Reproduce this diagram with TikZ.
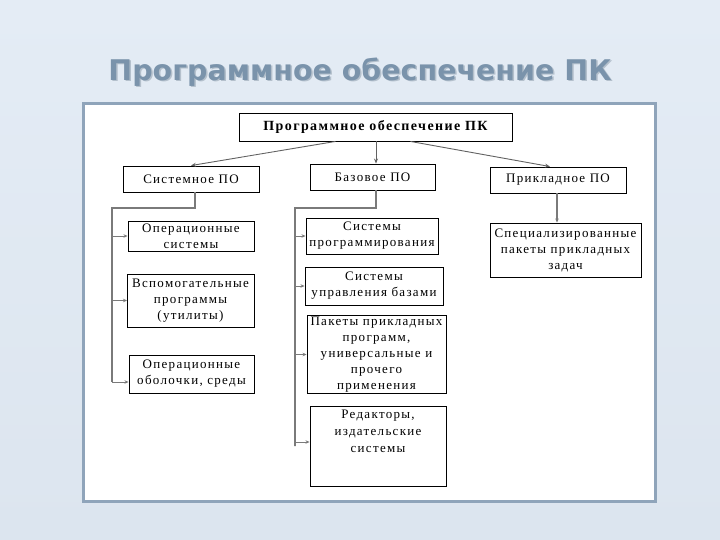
\documentclass[tikz,border=0pt]{standalone}
\usepackage{fontspec}
\setmainfont{Liberation Serif}[LetterSpace=10]
\newfontfamily\titlefont{DejaVu Sans}
\usetikzlibrary{arrows.meta,positioning}
\definecolor{slidebg}{HTML}{E4ECF5}
\definecolor{slidebgb}{HTML}{DCE5EF}
\definecolor{titlecol}{HTML}{7A93AB}
\definecolor{titleshade}{HTML}{B4C0CC}
\definecolor{framecol}{HTML}{8FA4BA}
\definecolor{linkcol}{HTML}{7A7A7A}
\tikzset{
  box/.style={draw=black, line width=0.9pt, fill=white, align=center,
    inner sep=1pt, font=\fontsize{13}{16}\selectfont},
  arr/.style={-{Stealth[length=5pt,width=4pt]}, draw=linkcol!80!black, line width=0.9pt},
  bus/.style={draw=linkcol, line width=2pt},
  tap/.style={-{Stealth[length=4pt,width=3.5pt]}, draw=linkcol, line width=1pt}
}
\begin{document}
\begin{tikzpicture}[x=1pt, y=-1pt]
  \useasboundingbox (0,0) rectangle (720,540);
  % slide background and frame
  \shade[top color=slidebg, bottom color=slidebgb] (0,0) rectangle (720,540);
  \draw[framecol, line width=3pt, fill=white] (83,104) rectangle (655,501);
  % title
  \node[text=titleshade, font=\titlefont\bfseries\fontsize{28.5}{32}\selectfont] at (361.5,73.5) {Программное обеспечение ПК};
  \node[text=titlecol, font=\titlefont\bfseries\fontsize{28.5}{32}\selectfont] (title) at (360,72) {Программное обеспечение ПК};

  % upper levels
  \node[box, minimum width=273pt, minimum height=28pt, font=\bfseries\fontsize{14}{16}\selectfont] (top) at (375.5,127) {Программное обеспечение ПК};
  \node[box, minimum width=136pt, minimum height=26pt] (sys) at (191,179) {Системное ПО};
  \node[box, minimum width=125pt, minimum height=26pt] (base) at (372.5,177) {Базовое ПО};
  \node[box, minimum width=136pt, minimum height=26pt] (appl) at (558,180) {Прикладное ПО};

  % system software
  \node[box, minimum width=126pt, minimum height=30pt] (os) at (191,236) {Операционные\\системы};
  \node[box, minimum width=127pt, minimum height=53pt] (util) at (190.5,300.5) {Вспомогательные\\программы\\(утилиты)};
  \node[box, minimum width=125pt, minimum height=38pt] (shell) at (191.5,374) {Операционные\\оболочки, среды};

  % base software
  \node[box, minimum width=132pt, minimum height=36pt] (prog) at (372,236) {Системы\\программирования};
  \node[box, minimum width=138pt, minimum height=38pt] (dbms) at (374,286) {Системы\\управления базами};
  \node[box, minimum width=139pt, minimum height=77pt] (pack) at (376.5,354.5) {Пакеты прикладных\\программ,\\универсальные и\\прочего\\применения};
  \node[box, minimum width=136pt, minimum height=80pt] (edit) at (378,446) {};
  \node[align=center, font=\fontsize{13}{17}\selectfont, below=1pt of edit.north] (editt) {Редакторы,\\издательские\\системы};

  % application software
  \node[box, minimum width=151pt, minimum height=54pt] (spec) at (565.5,250) {Специализированные\\пакеты прикладных\\задач};

  % links from the top
  \draw[arr] ([xshift=-40pt]top.south) -- (sys.north);
  \draw[arr] ([xshift=0.5pt]top.south) -- ([xshift=3.5pt]base.north);
  \draw[arr] ([xshift=35pt]top.south) -- ([xshift=-8pt]appl.north);

  % system tree
  \coordinate (lbus) at (112,208);
  \draw[bus] ([xshift=4pt]sys.south) |- (lbus) -- (lbus |- shell.west) -- ++(0,8);
  \draw[tap] (lbus |- os.west) -- (os.west);
  \draw[tap] (lbus |- util.west) -- ++(15,0);
  \draw[tap] ([yshift=-8pt]lbus |- shell.west) -- ([yshift=-8pt]shell.west);

  % base tree
  \coordinate (mbus) at (295,208);
  \draw[bus] ([xshift=3.5pt]base.south) |- (mbus) -- (mbus |- edit.west) -- ++(0,-4);
  \draw[tap] (mbus |- prog.west) -- (prog.west);
  \draw[tap] (mbus |- dbms.west) -- (dbms.west);
  \draw[tap] (mbus |- pack.west) -- (pack.west);
  \draw[tap] ([yshift=4pt]mbus |- edit.west) -- ([yshift=4pt]edit.west);

  % application tree
  \draw[tap, line width=1.4pt] ([xshift=-1pt]appl.south) -- ([xshift=-8.5pt]spec.north);
\end{tikzpicture}
\end{document}
